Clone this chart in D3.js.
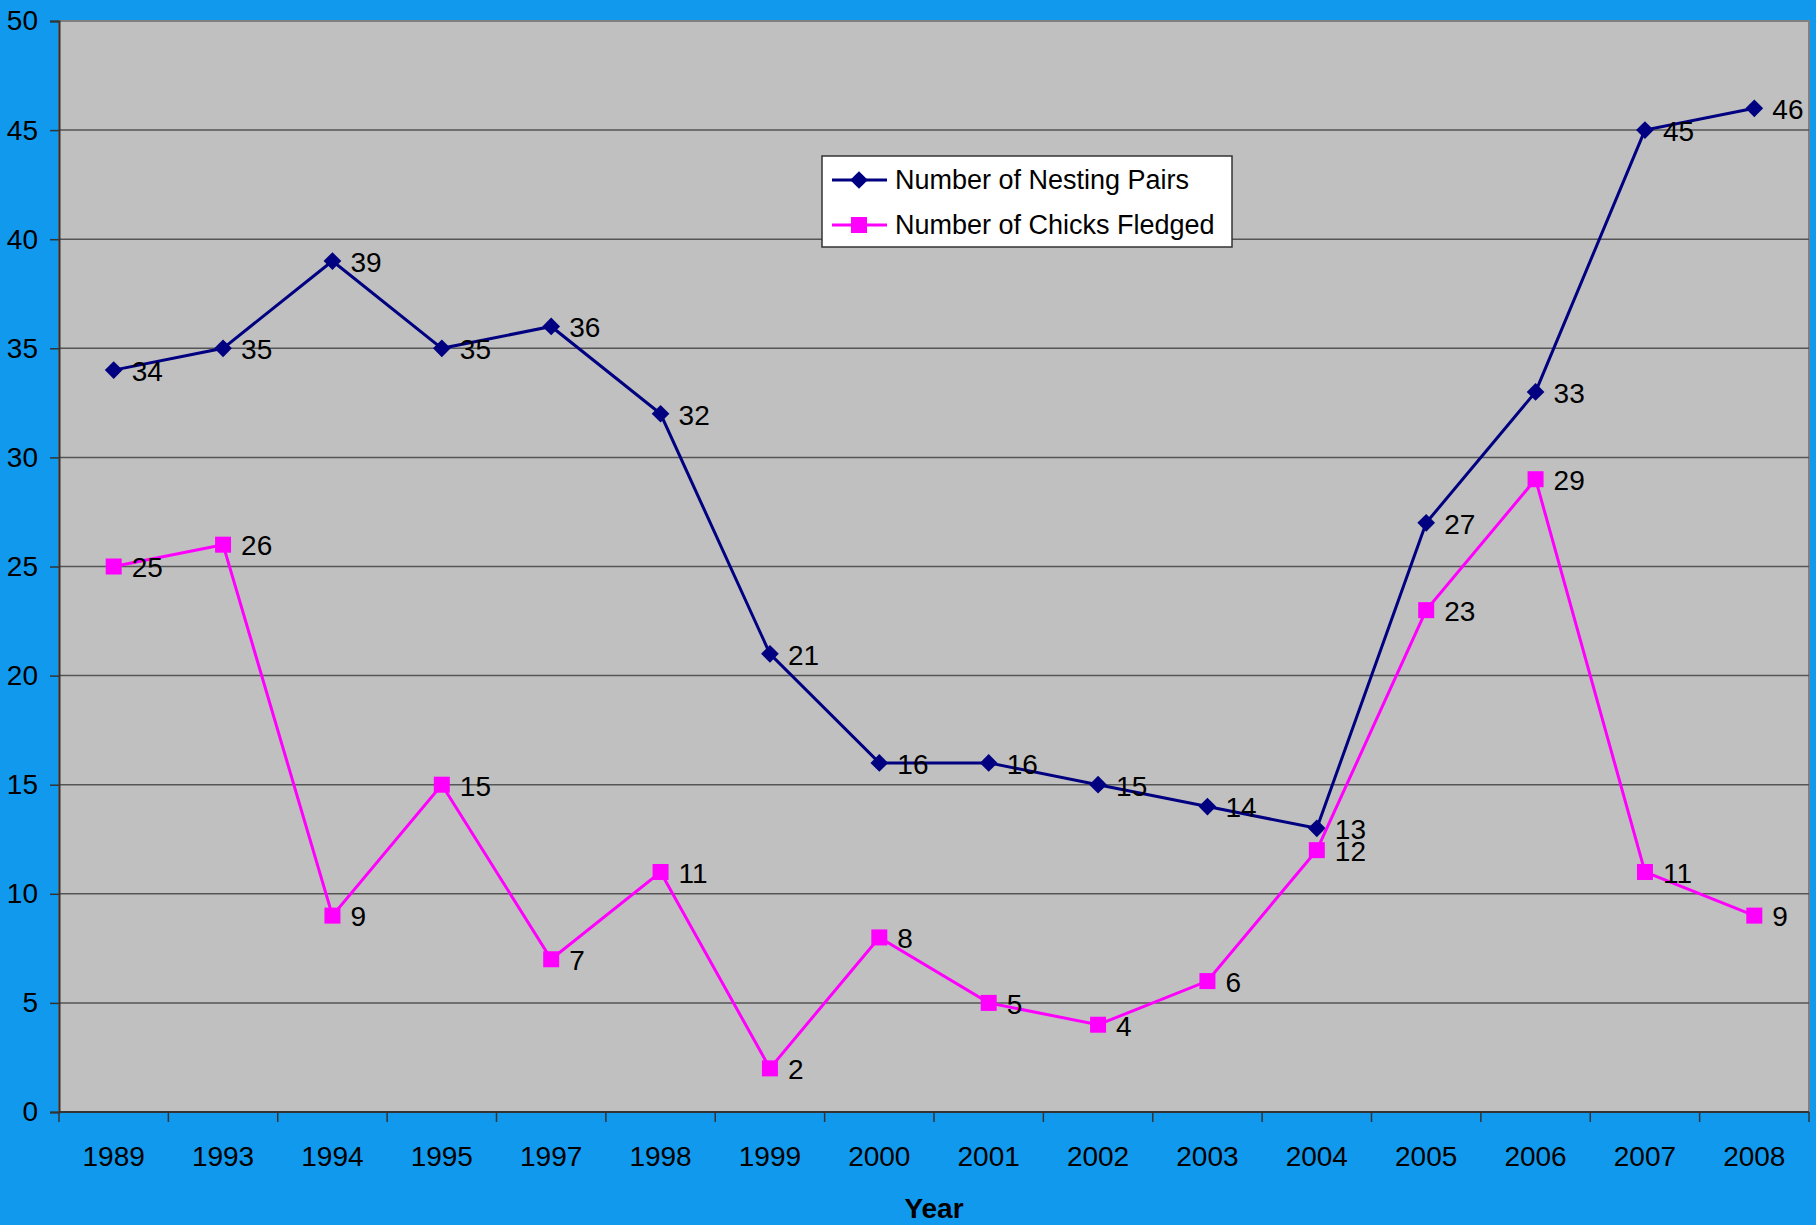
<!DOCTYPE html>
<html>
<head>
<meta charset="utf-8">
<script src="https://cdn.jsdelivr.net/npm/d3@7"></script>
<style>
    body { margin: 0; background: #1199ee; }
    svg { display: block; }
</style>
</head>
<body>
<svg id="chart"></svg>
<script>
const years = ["1989", "1993", "1994", "1995", "1997", "1998", "1999", "2000", "2001", "2002", "2003", "2004", "2005", "2006", "2007", "2008"]
const nestingPairs = [34, 35, 39, 35, 36, 32, 21, 16, 16, 15, 14, 13, 27, 33, 45, 46]
const chicksFledged = [25, 26, 9, 15, 7, 11, 2, 8, 5, 4, 6, 12, 23, 29, 11, 9]
const yTicks = [0, 5, 10, 15, 20, 25, 30, 35, 40, 45, 50]

const width = 1816, height = 1225
const margin = {top: 21, right: 7, bottom: 113, left: 59}
const font = "Liberation Sans, Arial, sans-serif"
const fontSize = 28

const svg = d3.select("#chart")
    .attr("width", width)
    .attr("height", height)

svg.append("rect")
    .attr("width", width).attr("height", height)
    .attr("fill", "#1199ee")

let x = d3.scaleBand()
    .domain(years)
    .range([margin.left, width - margin.right])
let y = d3.scaleLinear()
    .domain([0, 50])
    .range([height - margin.bottom, margin.top])

// plot area
svg.append("rect")
    .attr("x", margin.left).attr("y", margin.top)
    .attr("width", width - margin.right - margin.left)
    .attr("height", height - margin.bottom - margin.top)
    .attr("fill", "#c0c0c0")
    .attr("stroke", "#808080")
    .attr("stroke-width", 2)

// gridlines
svg.append("g")
    .selectAll("line")
    .data(yTicks.filter(d => d > 0 && d < 50))
    .join("line")
    .attr("x1", margin.left).attr("x2", width - margin.right)
    .attr("y1", d => y(d)).attr("y2", d => y(d))
    .attr("stroke", "#555")
    .attr("stroke-width", 1.5)

// y axis
let yAxis = g => g
    .attr("transform", `translate(${margin.left},0)`)
    .call(d3.axisLeft(y).tickValues(yTicks).tickSize(9).tickPadding(12))
    .call(g => g.select(".domain").attr("stroke", "#333").attr("stroke-width", 2))
    .call(g => g.selectAll(".tick line").attr("stroke", "#333").attr("stroke-width", 1.5))
    .call(g => g.selectAll(".tick text")
        .attr("font-family", font)
        .attr("font-size", fontSize)
        .attr("fill", "#000"))
svg.append("g").call(yAxis)

// x axis (ticks between categories)
const xBase = height - margin.bottom
svg.append("line")
    .attr("x1", margin.left).attr("x2", width - margin.right)
    .attr("y1", xBase).attr("y2", xBase)
    .attr("stroke", "#333").attr("stroke-width", 2)
let bounds = years.map(d => x(d)).concat([x(years[years.length - 1]) + x.bandwidth()])
svg.append("g")
    .selectAll("line")
    .data(bounds)
    .join("line")
    .attr("x1", d => d).attr("x2", d => d)
    .attr("y1", xBase).attr("y2", xBase + 10)
    .attr("stroke", "#333").attr("stroke-width", 1.5)
svg.append("g")
    .attr("font-family", font)
    .attr("font-size", fontSize)
    .attr("text-anchor", "middle")
    .selectAll("text")
    .data(years)
    .join("text")
    .attr("x", d => x(d) + x.bandwidth() / 2)
    .attr("y", xBase + 44)
    .attr("dy", "0.35em")
    .text(d => d)

svg.append("text")
    .attr("x", (margin.left + width - margin.right) / 2)
    .attr("y", 1208)
    .attr("dy", "0.35em")
    .attr("text-anchor", "middle")
    .attr("font-family", font)
    .attr("font-weight", "bold")
    .attr("font-size", fontSize)
    .text("Year")

const cx = (d, i) => x(years[i]) + x.bandwidth() / 2
const line = d3.line().x((d, i) => cx(d, i)).y(d => y(d))
const diamond = d3.symbol().type(d3.symbolDiamond2).size(200)

function drawSeries(values, color, marker) {
    svg.append("path")
        .datum(values)
        .attr("fill", "none")
        .attr("stroke", color)
        .attr("stroke-width", 3)
        .attr("d", line)
    let g = svg.append("g")
    if (marker === "diamond") {
        g.selectAll("path")
            .data(values)
            .join("path")
            .attr("transform", (d, i) => `translate(${cx(d, i)},${y(d)})`)
            .attr("d", diamond)
            .attr("fill", color)
    } else {
        g.selectAll("rect")
            .data(values)
            .join("rect")
            .attr("x", (d, i) => cx(d, i) - 8)
            .attr("y", d => y(d) - 8)
            .attr("width", 16).attr("height", 16)
            .attr("fill", color)
    }
    svg.append("g")
        .attr("font-family", font)
        .attr("font-size", fontSize)
        .selectAll("text")
        .data(values)
        .join("text")
        .attr("x", (d, i) => cx(d, i) + 18)
        .attr("y", d => y(d) + 1)
        .attr("dy", "0.35em")
        .text(d => d)
}

drawSeries(nestingPairs, "#000080", "diamond")
drawSeries(chicksFledged, "#ff00ff", "square")

// legend
const legend = svg.append("g").attr("transform", "translate(822,156)")
legend.append("rect")
    .attr("width", 410).attr("height", 91)
    .attr("fill", "#fff").attr("stroke", "#333").attr("stroke-width", 1.5)
const legendItems = [
    {name: "Number of Nesting Pairs", color: "#000080", marker: "diamond"},
    {name: "Number of Chicks Fledged", color: "#ff00ff", marker: "square"}
]
legendItems.forEach((item, i) => {
    let ly = 24 + i * 45
    legend.append("line")
        .attr("x1", 10).attr("x2", 65)
        .attr("y1", ly).attr("y2", ly)
        .attr("stroke", item.color).attr("stroke-width", 3)
    if (item.marker === "diamond") {
        legend.append("path")
            .attr("transform", `translate(37,${ly})`)
            .attr("d", diamond)
            .attr("fill", item.color)
    } else {
        legend.append("rect")
            .attr("x", 29).attr("y", ly - 8)
            .attr("width", 16).attr("height", 16)
            .attr("fill", item.color)
    }
    legend.append("text")
        .attr("x", 73).attr("y", ly)
        .attr("dy", "0.35em")
        .attr("font-family", font)
        .attr("font-size", 27)
        .text(item.name)
})
</script>
</body>
</html>
